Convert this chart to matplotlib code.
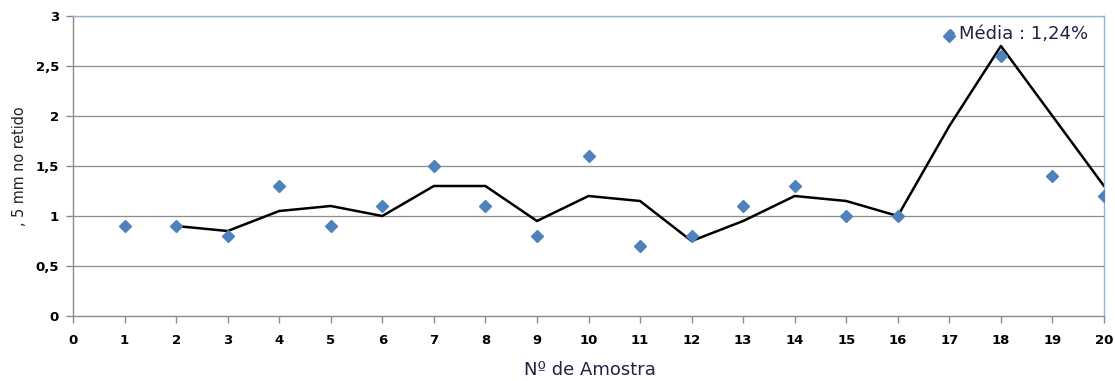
import numpy as np
import matplotlib.pyplot as plt
from matplotlib.lines import Line2D

# Sample numbers and retained percentage per sample
amostra = [1, 2, 3, 4, 5, 6, 7, 8, 9, 10, 11, 12, 13, 14, 15, 16, 17, 18, 19, 20]
retido = [0.9, 0.9, 0.8, 1.3, 0.9, 1.1, 1.5, 1.1, 0.8, 1.6,
          0.7, 0.8, 1.1, 1.3, 1.0, 1.0, 2.8, 2.6, 1.4, 1.2]

# Two-period moving average line (starts at sample 2)
media_x = [2, 3, 4, 5, 6, 7, 8, 9, 10, 11, 12, 13, 14, 15, 16, 17, 18, 19, 20]
media_y = [0.9, 0.85, 1.05, 1.1, 1.0, 1.3, 1.3, 0.95, 1.2, 1.15,
           0.75, 0.95, 1.2, 1.15, 1.0, 1.9, 2.7, 2.0, 1.3]

x_ticks = list(range(0, 21))
y_ticks = [0, 0.5, 1, 1.5, 2, 2.5, 3]
y_labels = ['0', '0,5', '1', '1,5', '2', '2,5', '3']

W, H = 1115, 381
fig = plt.figure(figsize=(W / 100, H / 100), dpi=100)
ax = fig.add_axes([73 / W, 1 - 316 / H, (1104 - 73) / W, 300 / H])

for y in y_ticks[1:]:
    ax.axhline(y, color='#8c8c8c', lw=0.9, zorder=1)

ax.plot(media_x, media_y, color='black', lw=1.8, zorder=2)
ax.plot(amostra, retido, linestyle='none', marker='D', markersize=6.5,
        color='#4f81bd', markeredgecolor='#4f81bd', zorder=3)

ax.set_xlim(0, 20)
ax.set_ylim(0, 3)
ax.set_xticks(x_ticks)
ax.set_xticklabels([str(t) for t in x_ticks])
ax.set_yticks(y_ticks)
ax.set_yticklabels(y_labels)

for lab in ax.get_xticklabels() + ax.get_yticklabels():
    lab.set_fontweight('bold')
    lab.set_fontsize(9.5)
    lab.set_family('DejaVu Sans')

ax.tick_params(axis='x', direction='out', length=5, width=1, color='#8c8c8c', pad=8)
ax.tick_params(axis='y', direction='out', length=5, width=1, color='#8c8c8c', pad=5)

ax.spines['left'].set_color('#8c8c8c')
ax.spines['bottom'].set_color('#8c8c8c')
ax.spines['top'].set_color('#95b3d7')
ax.spines['right'].set_color('#95b3d7')
for s in ax.spines.values():
    s.set_linewidth(1.0)

fig.text(590 / W, 1 - 370 / H, 'Nº de Amostra', ha='center', va='center',
         fontsize=13, family='DejaVu Sans', color='#222244')
fig.text(20 / W, 1 - 166 / H, ', 5 mm no retido', rotation=90, ha='center', va='center',
         fontsize=11.5, family='DejaVu Sans', stretch='condensed', color='#222222')

handle = Line2D([], [], linestyle='none', marker='D', markersize=4.5,
                color='#4f81bd')
leg = ax.legend([handle], ['Média : 1,24%'], loc='center left',
                frameon=False, handlelength=0.5, handletextpad=0.25, borderaxespad=0,
                borderpad=0, prop={'family': 'DejaVu Sans', 'size': 13})
leg.set_bbox_to_anchor((945 / W, 1 - 34 / H), transform=fig.transFigure)
for t in leg.get_texts():
    t.set_color('#222244')

fig.savefig('out.png', dpi=100)
